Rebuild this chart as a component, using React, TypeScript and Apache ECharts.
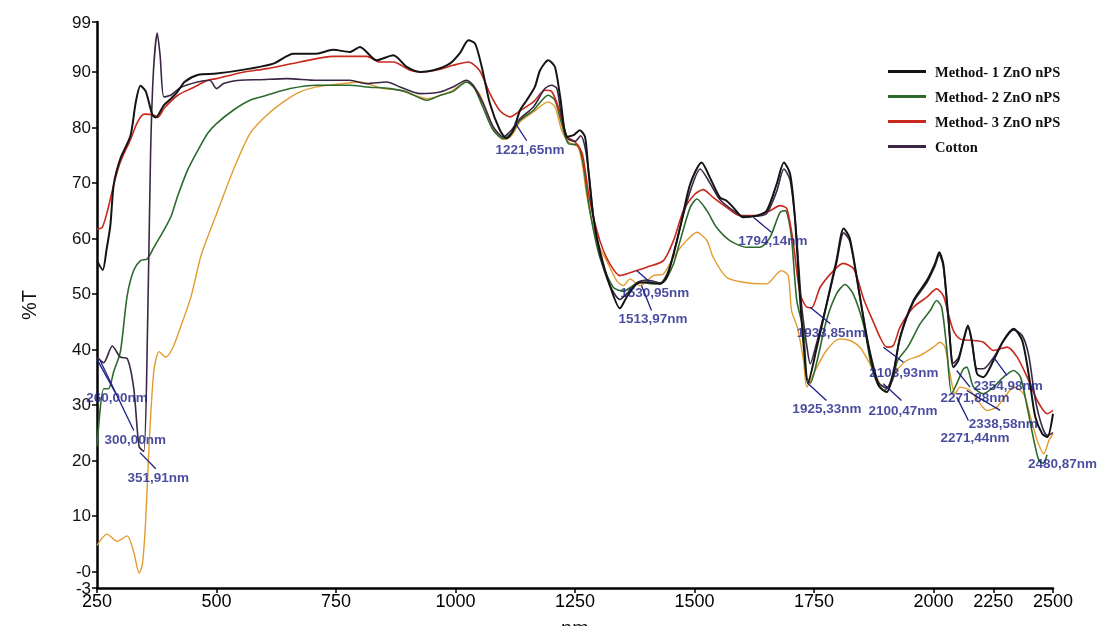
import React, { useEffect, useRef } from "react";
import * as echarts from "echarts";

// ---------- data (wavelength nm, %T) ----------
const m1Nm = [250, 262, 270, 278, 285, 299, 320, 331, 341, 352, 366, 373, 390, 405, 419, 433, 462, 500, 570, 619, 661, 709, 744, 779, 800, 835, 870, 898, 926, 954, 988, 1010, 1027, 1041, 1055, 1072, 1093, 1107, 1121, 1135, 1149, 1166, 1177, 1194, 1208, 1219, 1233, 1247, 1260, 1271, 1278, 1288, 1302, 1323, 1344, 1358, 1379, 1400, 1428, 1442, 1456, 1470, 1491, 1515, 1532, 1553, 1567, 1581, 1602, 1630, 1651, 1672, 1687, 1700, 1710, 1721, 1729, 1737, 1755, 1776, 1797, 1812, 1825, 1845, 1865, 1885, 1902, 1916, 1930, 1958, 1986, 2006, 2024, 2041, 2062, 2083, 2104, 2125, 2144, 2160, 2182, 2209, 2251, 2293, 2335, 2371, 2398, 2426, 2455, 2476, 2500];
const m1T = [56, 54.3, 58, 62.4, 69.7, 74.4, 78.5, 84.5, 87.5, 86.5, 82.2, 81.8, 84, 85.2, 86.5, 88.2, 89.5, 89.7, 90.6, 91.5, 93.3, 93.3, 94, 93.6, 94.5, 92.1, 93, 90.9, 90, 90.3, 91.5, 93.5, 95.7, 95.1, 90.9, 84.3, 79.5, 78, 79.5, 83.1, 84.9, 87.3, 90.3, 92.1, 90.9, 85.5, 78.3, 78.6, 79.5, 78.3, 72.3, 64, 57.8, 51.5, 47.4, 49.4, 51.8, 52.1, 51.8, 53, 57.2, 62, 69.8, 73.7, 71, 67.4, 66.8, 65.6, 63.8, 64.1, 65, 69.8, 73.7, 71.6, 63.8, 49, 40, 33.9, 40, 48, 56, 61.8, 60, 50, 40, 33.5, 32.3, 35.6, 42.2, 48.8, 52.4, 55.4, 57.5, 55.4, 45.8, 36.8, 38, 41.6, 44.3, 41.6, 35.6, 35, 38, 41.6, 43.7, 41.6, 35.6, 27.8, 24.8, 24.2, 28.4];

const m2Nm = [250, 264, 274, 285, 299, 313, 327, 341, 355, 369, 390, 405, 419, 440, 465, 482, 500, 535, 570, 605, 654, 709, 779, 814, 863, 898, 940, 968, 995, 1023, 1040, 1058, 1079, 1100, 1117, 1135, 1163, 1194, 1208, 1222, 1236, 1256, 1266, 1281, 1302, 1330, 1351, 1386, 1414, 1435, 1456, 1470, 1491, 1505, 1526, 1546, 1574, 1609, 1637, 1658, 1679, 1690, 1702, 1714, 1728, 1735, 1742, 1755, 1776, 1797, 1815, 1832, 1855, 1869, 1883, 1897, 1914, 1925, 1946, 1972, 1993, 2013, 2034, 2055, 2076, 2097, 2125, 2139, 2167, 2209, 2251, 2293, 2335, 2364, 2392, 2420, 2441, 2460, 2475];
const m2T = [22.5, 32.9, 32.9, 36, 39.6, 49.6, 54.3, 56, 56.3, 58.4, 61.5, 64, 67.7, 72.4, 76.5, 79, 80.7, 83.1, 84.9, 85.8, 87, 87.6, 87.6, 87.3, 87, 86.4, 84.9, 85.8, 86.5, 88.2, 87, 83.5, 79.5, 78, 79, 81.3, 83.1, 85.8, 84.9, 80.7, 77.1, 76.8, 74, 65, 56.6, 51.2, 50.5, 52.1, 51.8, 52.1, 55.4, 59.6, 65.6, 67.1, 65, 62, 59.6, 58.4, 58.4, 60.2, 64.7, 65, 60.8, 48.8, 43.4, 35, 33.9, 37.4, 45.2, 50, 51.7, 50, 44, 37.4, 33.8, 32.6, 34.4, 38, 40.4, 44.6, 47, 48.8, 47.6, 40.4, 32, 33.8, 36.5, 36.8, 33.2, 32, 33.2, 35, 36.2, 35, 29.6, 23.6, 20, 19.5, 21];

const m3Nm = [250, 261, 272, 285, 299, 320, 335, 349, 370, 377, 391, 419, 447, 482, 500, 553, 605, 675, 744, 814, 842, 870, 905, 926, 968, 995, 1027, 1050, 1072, 1093, 1114, 1135, 1163, 1187, 1201, 1215, 1233, 1245, 1256, 1266, 1281, 1302, 1323, 1344, 1379, 1400, 1435, 1456, 1477, 1501, 1518, 1539, 1567, 1595, 1630, 1658, 1679, 1693, 1706, 1721, 1735, 1745, 1763, 1791, 1811, 1833, 1855, 1876, 1888, 1902, 1916, 1930, 1958, 1986, 2013, 2041, 2062, 2083, 2111, 2167, 2209, 2251, 2308, 2350, 2392, 2434, 2476, 2500];
const m3T = [61.7, 62, 65, 69.7, 73.8, 77.8, 81, 82.4, 82.2, 81.8, 83.5, 85.8, 87, 88.5, 88.8, 89.9, 90.6, 91.8, 92.8, 92.8, 91.8, 91.8, 90.3, 90, 90.5, 91.2, 91.8, 90.3, 86.1, 83, 81.9, 83, 84.6, 86.7, 86.5, 83.7, 78.3, 77.7, 76.8, 75, 66.8, 59.6, 55.4, 53.3, 54.2, 54.8, 56, 59.6, 65, 68, 68.8, 67.4, 65.6, 64.1, 64.1, 65, 65.9, 65.4, 59.6, 50, 47.6, 47.5, 51.2, 54.2, 55.5, 54.5, 48.8, 44.6, 42.2, 40.4, 40.7, 44, 47.6, 49.4, 50.9, 49.7, 46.4, 43.4, 41.9, 41.6, 41.3, 39.8, 40.4, 38.6, 35, 30.8, 28.4, 29];

const cottonNm = [250, 264, 282, 299, 313, 327, 338, 348, 356, 362, 368, 376, 382, 390, 404, 425, 460, 486, 500, 515, 549, 591, 647, 709, 779, 814, 856, 884, 926, 968, 995, 1023, 1037, 1058, 1079, 1100, 1117, 1135, 1163, 1187, 1201, 1212, 1222, 1235, 1250, 1262, 1272, 1280, 1290, 1302, 1323, 1344, 1358, 1379, 1400, 1428, 1442, 1456, 1470, 1491, 1512, 1532, 1553, 1581, 1602, 1630, 1651, 1672, 1687, 1700, 1712, 1724, 1736, 1742, 1755, 1776, 1797, 1812, 1825, 1845, 1865, 1885, 1902, 1916, 1930, 1958, 1986, 2006, 2024, 2041, 2062, 2083, 2104, 2125, 2144, 2160, 2182, 2209, 2251, 2293, 2335, 2371, 2398, 2426, 2455, 2476, 2500];
const cottonT = [38.6, 37.6, 40.6, 38.6, 38.4, 32.9, 22.5, 21.6, 45, 75, 90, 97, 93, 85.5, 85.8, 87.2, 88.2, 88.5, 87, 87.9, 88.5, 88.6, 88.8, 88.5, 88.5, 87.9, 88.2, 87.3, 86.1, 86.4, 87.3, 88.5, 87.6, 84.3, 80.1, 78.3, 79.5, 81.6, 83.7, 87, 87.6, 87, 81.9, 78, 77.5, 78.5, 76, 71, 63, 57, 51.5, 49, 50, 52, 52.5, 52, 53.5, 57, 62, 68.5, 72.5, 70, 67, 65, 64, 64, 64.5, 68.5, 72.5, 70.5, 62, 48, 40, 37.4, 41, 48, 55.5, 61, 59.5, 50, 40.5, 34, 33, 36, 42, 48.5, 52, 55, 57, 55, 45.5, 37.5, 38.5, 41.5, 44, 41.5, 36.5, 36.5, 38.5, 41.5, 43.5, 42.5, 39, 31, 26, 24.5, 25];

const fifthNm = [250, 271, 292, 313, 327, 338, 345, 352, 359, 369, 380, 394, 408, 426, 447, 468, 500, 535, 570, 605, 640, 675, 709, 744, 800, 849, 884, 940, 988, 1023, 1050, 1079, 1100, 1117, 1135, 1163, 1194, 1208, 1222, 1236, 1256, 1266, 1274, 1295, 1316, 1337, 1351, 1365, 1386, 1414, 1435, 1456, 1477, 1505, 1526, 1539, 1567, 1602, 1651, 1672, 1682, 1696, 1703, 1715, 1728, 1735, 1749, 1776, 1804, 1825, 1846, 1867, 1888, 1902, 1923, 1944, 1972, 2000, 2027, 2048, 2069, 2090, 2111, 2153, 2195, 2223, 2265, 2308, 2335, 2377, 2406, 2434, 2462, 2483, 2500];
const fifthT = [4.7, 6.7, 5.4, 6.4, 3.4, -0.3, 1.3, 9.4, 22.8, 36.2, 39.6, 38.6, 40.2, 44.3, 49.6, 57, 64.4, 72.3, 78.9, 82.2, 84.6, 86.4, 87.3, 87.7, 88.2, 87, 86.7, 85.2, 86.4, 88.2, 86.1, 80, 77.8, 78.5, 81, 82.8, 84.6, 83.7, 79.5, 77.4, 76.5, 73, 68, 59.6, 56, 52.4, 51.5, 52.7, 51.5, 53.3, 53.6, 56.6, 59, 61.1, 59.6, 56.6, 53, 52.1, 51.8, 53.6, 54.2, 53.3, 47, 44, 38, 33.2, 35.6, 39.8, 41.9, 41.6, 40.4, 37.4, 33.8, 33.2, 36.2, 38, 38.9, 40.4, 41.3, 40.4, 35.6, 32, 33.2, 32.6, 30.2, 29, 29.6, 32, 33.2, 32, 27.8, 23.6, 21.2, 23.6, 24.8];

// peak annotations: text, marked point, end of leader, label centre
const annText = ["260,00nm", "300,00nm", "351,91nm", "1221,65nm", "1530,95nm", "1513,97nm", "1794,14nm", "1933,85nm", "1925,33nm", "2100,47nm", "2103,93nm", "2354,98nm", "2271,88nm", "2338,58nm", "2271,44nm", "2480,87nm"];
const annFromNm = [250, 257, 340, 1124, 1379, 1389, 1623, 1742, 1738, 1895, 1895, 2251, 2097, 2139, 2097, 2487];
const annFromT = [38.2, 37.9, 21.4, 80.9, 54.2, 51.5, 63.8, 47.6, 33.8, 33.8, 40.4, 38.6, 36.2, 32.6, 31.4, 23.6];
const annToNm = [289, 327, 373, 1149, 1407, 1410, 1661, 1784, 1776, 1933, 1937, 2307, 2153, 2279, 2146, 2536];
const annToT = [32.1, 25.4, 18.5, 77.6, 52.1, 47, 61.1, 44.6, 30.8, 30.8, 37.7, 35.3, 33.2, 29, 27.2, 21.2];
const annLabelNm = [292, 330, 378, 1156, 1417, 1413, 1664, 1786, 1777, 1936, 1938, 2313, 2174, 2292, 2174, 2540];
const annLabelT = [31.3, 23.8, 16.9, 76.0, 50.2, 45.6, 59.6, 43.0, 29.3, 29.0, 35.8, 33.5, 31.3, 26.6, 24.1, 19.4];

const xTickNm = [250, 500, 750, 1000, 1250, 1500, 1750, 2000, 2250, 2500];
const yTicks = [-3, 0, 10, 20, 30, 40, 50, 60, 70, 80, 90, 99];
const yLabelMain = [0, 10, 20, 30, 40, 50, 60, 70, 80, 90, 99];
const yLabelMin = [-3];

const legendNames = ["Method- 1 ZnO nPS", "Method- 2 ZnO nPS", "Method- 3 ZnO nPS", "Cotton"];

// the original axis is compressed after 2000 nm
const toU = (nm: number) => (nm <= 2000 ? nm : 2000 + (nm - 2000) / 2);
const fromU = (u: number) => (u <= 2000 ? u : 2000 + (u - 2000) * 2);
const pairs = (xs: number[], ys: number[]) => xs.map((x, i) => [toU(x), ys[i]]);

const yLabelStyle = {
  color: "#111",
  fontFamily: "Liberation Sans, Arial, sans-serif",
  fontSize: 17,
  margin: 6,
};

export default function App() {
  const ref = useRef<HTMLDivElement>(null);
  useEffect(() => {
    if (!ref.current) return;
    const chart = echarts.init(ref.current, null, { renderer: "svg" });
    const lineSeries = (name: string, xs: number[], ys: number[], color: string, width: number) => ({
      name,
      type: "line",
      data: pairs(xs, ys),
      showSymbol: false,
      smooth: 0.25,
      lineStyle: { color, width },
      itemStyle: { color },
      z: 2,
    });
    const ann = {
      name: "ann",
      type: "scatter",
      clip: false,
      symbolSize: 1,
      itemStyle: { color: "rgba(0,0,0,0)" },
      data: annText.map((t, i) => ({ name: t, value: [toU(annLabelNm[i]), annLabelT[i]] })),
      label: {
        show: true,
        position: "inside",
        formatter: (p: any) => p.name,
        color: "#1c1f86",
        fontFamily: "Liberation Sans, Arial, sans-serif",
        fontWeight: "bold",
        fontSize: 13.5,
      },
      markLine: {
        silent: true,
        symbol: ["none", "none"],
        label: { show: false },
        lineStyle: { color: "#1c1f86", width: 1.3, type: "solid" },
        data: annText.map((_, i) => [
          { coord: [toU(annFromNm[i]), annFromT[i]] },
          { coord: [toU(annToNm[i]), annToT[i]] },
        ]),
      },
      z: 5,
    };
    chart.setOption({
      animation: false,
      grid: { left: 97, right: 48, top: 22, bottom: 38, containLabel: false, outerBoundsMode: "none" },
      legend: {
        data: legendNames,
        orient: "vertical",
        left: 883,
        top: 59,
        itemWidth: 38,
        itemHeight: 3,
        itemGap: 10,
        icon: "rect",
        textStyle: { fontFamily: "Liberation Serif, Times New Roman, serif", fontSize: 14.5, fontWeight: "bold", color: "#111", padding: [0, 0, 0, 4] },
      },
      xAxis: {
        type: "value",
        min: 250,
        max: 2250,
        name: "nm",
        nameLocation: "middle",
        nameGap: 30,
        nameTextStyle: { fontFamily: "Liberation Sans, Arial, sans-serif", fontSize: 20, color: "#111" },
        axisLine: { onZero: false, lineStyle: { color: "#000", width: 2.5 } },
        axisTick: { show: true, length: 5, lineStyle: { color: "#000", width: 1.5 }, customValues: xTickNm.map(toU) },
        axisLabel: {
          customValues: xTickNm.map(toU),
          formatter: (v: number) => String(Math.round(fromU(v))),
          color: "#000",
          fontFamily: "Liberation Sans Narrow, Arial Narrow, Liberation Sans, sans-serif",
          fontSize: 18,
          margin: 4,
          showMinLabel: true,
          showMaxLabel: true,
        },
        splitLine: { show: false },
      },
      yAxis: [
        {
          type: "value",
          min: -3,
          max: 99,
          name: "%T",
          nameLocation: "middle",
          nameGap: 58,
          nameRotate: 90,
          nameTextStyle: { fontFamily: "Liberation Sans, Arial, sans-serif", fontSize: 20, color: "#111" },
          axisLine: { show: true, onZero: false, lineStyle: { color: "#000", width: 2.5 } },
          axisTick: { show: true, length: 5, lineStyle: { color: "#000", width: 1.5 }, customValues: yTicks },
          axisLabel: {
            ...yLabelStyle,
            customValues: yLabelMain,
            formatter: (v: number) => (v === 0 ? "-0" : String(v)),
            showMinLabel: true,
            showMaxLabel: true,
          },
          splitLine: { show: false },
        },
        {
          type: "value",
          position: "left",
          min: -3,
          max: 99,
          axisLine: { show: false, onZero: false },
          axisTick: { show: false },
          axisLabel: { ...yLabelStyle, customValues: yLabelMin, showMinLabel: true },
          splitLine: { show: false },
        },
      ],
      series: [
        lineSeries("extra", fifthNm, fifthT, "#e39b2f", 1.4),
        lineSeries(legendNames[1], m2Nm, m2T, "#2d6a2d", 1.6),
        lineSeries(legendNames[2], m3Nm, m3T, "#c9281c", 1.6),
        lineSeries(legendNames[3], cottonNm, cottonT, "#3b2744", 1.6),
        lineSeries(legendNames[0], m1Nm, m1T, "#141414", 2),
        ann,
      ],
    });
    return () => chart.dispose();
  }, []);
  return <div ref={ref} style={{ position: "fixed", left: 0, top: 0, width: 1101, height: 626 }} />;
}
